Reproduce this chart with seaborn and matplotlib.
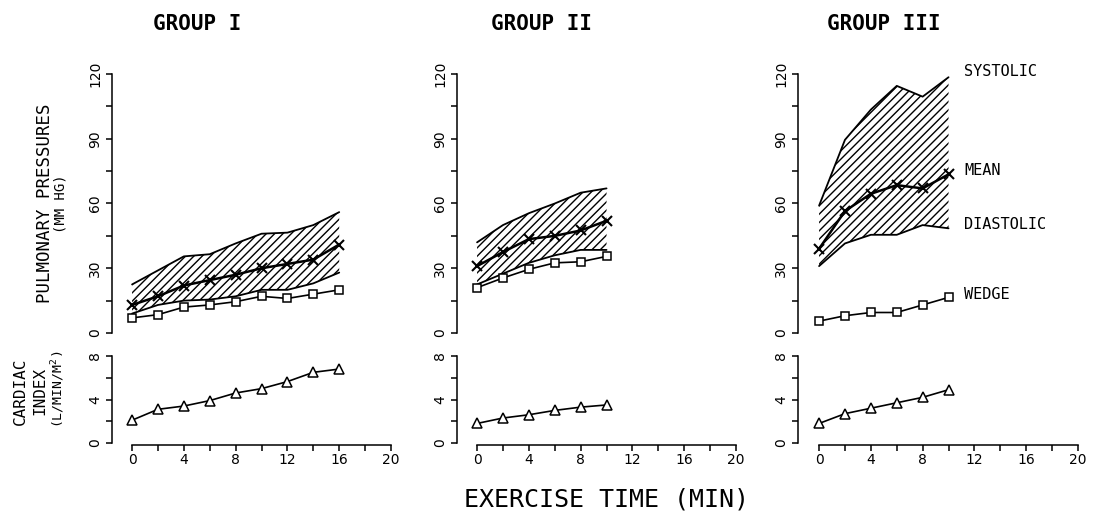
import matplotlib
matplotlib.use("Agg")
import matplotlib.pyplot as plt
import seaborn as sns
import pandas as pd

# ---------------- data ----------------
group_titles = ["GROUP I", "GROUP II", "GROUP III"]

time_g1 = [0, 2, 4, 6, 8, 10, 12, 14, 16]
systolic_g1 = [22.5, 29, 35.5, 36.5, 41.5, 46, 46.5, 50, 56]
mean_g1 = [13, 17, 22, 24.5, 27, 30, 32, 34, 41]
diastolic_g1 = [9, 13, 15, 15.5, 17, 20, 20, 23, 28]
wedge_g1 = [7, 8.5, 12, 13, 14.5, 17, 16, 18, 20]
ci_g1 = [2.1, 3.1, 3.4, 3.9, 4.6, 5.0, 5.65, 6.5, 6.8]

time_g2 = [0, 2, 4, 6, 8, 10]
systolic_g2 = [42, 50, 55.5, 60, 65, 67]
mean_g2 = [31, 37.5, 43.5, 45, 47.5, 52]
diastolic_g2 = [22.5, 27.5, 32.5, 36, 38.5, 38.5]
wedge_g2 = [21, 25.5, 29.5, 32.5, 33, 35.5]
ci_g2 = [1.8, 2.3, 2.6, 3.0, 3.3, 3.5]

time_g3 = [0, 2, 4, 6, 8, 10]
systolic_g3 = [59, 89.5, 103.5, 114.5, 109.5, 118.5]
mean_g3 = [39, 56.5, 64.5, 68.5, 67, 73.5]
diastolic_g3 = [31, 41.5, 45.5, 45.5, 50, 48.5]
wedge_g3 = [5.5, 8, 9.5, 9.5, 13, 16.5]
ci_g3 = [1.8, 2.7, 3.2, 3.7, 4.2, 4.9]

series_labels = ["SYSTOLIC", "MEAN", "DIASTOLIC", "WEDGE"]
pressure_ticks = [0, 15, 30, 45, 60, 75, 90, 105, 120]
pressure_ticklabels = ["0", "", "30", "", "60", "", "90", "", "120"]
ci_ticks = [0, 2, 4, 6, 8]
ci_ticklabels = ["0", "", "4", "", "8"]
time_ticks = [0, 2, 4, 6, 8, 10, 12, 14, 16, 18, 20]
time_ticklabels = ["0", "", "4", "", "8", "", "12", "", "16", "", "20"]

groups = [
    dict(t=time_g1, sys=systolic_g1, mean=mean_g1, dia=diastolic_g1, wedge=wedge_g1, ci=ci_g1),
    dict(t=time_g2, sys=systolic_g2, mean=mean_g2, dia=diastolic_g2, wedge=wedge_g2, ci=ci_g2),
    dict(t=time_g3, sys=systolic_g3, mean=mean_g3, dia=diastolic_g3, wedge=wedge_g3, ci=ci_g3),
]

# ---------------- style ----------------
sns.set_theme(style="ticks")
plt.rcParams["font.family"] = ["DejaVu Sans"]
plt.rcParams["hatch.linewidth"] = 1.0
plt.rcParams["axes.linewidth"] = 1.1
plt.rcParams["text.color"] = "black"
plt.rcParams["xtick.color"] = "black"
plt.rcParams["ytick.color"] = "black"
plt.rcParams["axes.edgecolor"] = "black"
MONO = ["DejaVu Sans Mono"]

W, H = 1093, 511
fig = plt.figure(figsize=(W / 100, H / 100), dpi=100)
fig.patch.set_facecolor("white")


def rect(l, t, r, b):
    return [l / W, 1 - b / H, (r - l) / W, (b - t) / H]


# pixel layout: spine x, x=0 pixel, x=20 pixel
spine_px = [112, 457, 798]
x0_px = [132, 477, 819]
x20_px = [390, 735, 1077]

line_kw = dict(color="black", linewidth=1.3, legend=False)

for i, g in enumerate(groups):
    s = (x20_px[i] - x0_px[i]) / 20.0
    xmin = -(x0_px[i] - spine_px[i]) / s
    df = pd.DataFrame({"time": g["t"], "systolic": g["sys"], "mean": g["mean"],
                       "diastolic": g["dia"], "wedge": g["wedge"], "ci": g["ci"]})

    # ---- pressures ----
    ax = fig.add_axes(rect(spine_px[i], 74, x20_px[i] + 1, 333))
    ax.set_facecolor("none")
    ax.fill_between(df["time"], df["diastolic"], df["systolic"], facecolor="none",
                    edgecolor="black", hatch="////", linewidth=0)
    sns.lineplot(data=df, x="time", y="systolic", ax=ax, **line_kw)
    sns.lineplot(data=df, x="time", y="diastolic", ax=ax, **line_kw)
    sns.lineplot(data=df, x="time", y="mean", ax=ax, marker="x", markersize=7,
                 markeredgewidth=1.5, markeredgecolor="black", color="black",
                 linewidth=1.8, legend=False)
    sns.lineplot(data=df, x="time", y="wedge", ax=ax, marker="s", markersize=6,
                 markerfacecolor="white", markeredgecolor="black",
                 markeredgewidth=1.1, color="black", linewidth=1.2, legend=False)
    ax.set_xlim(xmin, 20)
    ax.set_ylim(0, 120)
    ax.set_yticks(pressure_ticks)
    ax.set_yticklabels(pressure_ticklabels, rotation=90, va="center", fontsize=10)
    ax.set_xticks([])
    for sp in ["top", "right", "bottom"]:
        ax.spines[sp].set_visible(False)
    ax.spines["left"].set_color("black")
    ax.tick_params(axis="y", direction="out", length=4, width=1.1, color="black", pad=3)
    ax.set_xlabel("")
    ax.set_ylabel("")

    ax.text(5, (333 - 24) / (333 - 74), group_titles[i], transform=ax.get_xaxis_transform(),
            ha="center", va="center", fontsize=15, fontweight="bold", family=MONO,
            clip_on=False)

    if i == 2:
        label_y = [121, 75.5, 50.5, 18]
        for lab, yv in zip(series_labels, label_y):
            ax.text(11.2, yv, lab, ha="left", va="center", fontsize=11,
                    family=MONO, clip_on=False)

    # ---- cardiac index ----
    ax2 = fig.add_axes(rect(spine_px[i], 356, x20_px[i] + 1, 445))
    ax2.set_facecolor("none")
    sns.lineplot(data=df, x="time", y="ci", ax=ax2, marker="^", markersize=7,
                 markerfacecolor="white", markeredgecolor="black",
                 markeredgewidth=1.1, color="black", linewidth=1.2, legend=False)
    ax2.set_xlim(xmin, 20)
    ax2.set_ylim(-0.18, 8)
    ax2.set_yticks(ci_ticks)
    ax2.set_yticklabels(ci_ticklabels, rotation=90, va="center", fontsize=10)
    ax2.set_xticks(time_ticks)
    ax2.set_xticklabels(time_ticklabels, fontsize=10)
    for sp in ["top", "right"]:
        ax2.spines[sp].set_visible(False)
    ax2.spines["left"].set_bounds(0, 8)
    ax2.spines["bottom"].set_bounds(0, 20)
    ax2.spines["left"].set_color("black")
    ax2.spines["bottom"].set_color("black")
    ax2.tick_params(axis="both", direction="out", length=4, width=1.1, color="black")
    ax2.tick_params(axis="y", pad=3)
    ax2.tick_params(axis="x", pad=2)
    ax2.set_xlabel("")
    ax2.set_ylabel("")

# ---------------- labels ----------------
fig.text(45 / W, 1 - 203 / H, "PULMONARY PRESSURES", rotation=90, ha="center",
         va="center", fontsize=12.5, family=MONO)
fig.text(61 / W, 1 - 204 / H, "(MM HG)", rotation=90, ha="center", va="center",
         fontsize=10, family=MONO)
fig.text(20 / W, 1 - 391 / H, "CARDIAC", rotation=90, ha="center", va="center",
         fontsize=11.5, family=MONO)
fig.text(40 / W, 1 - 391 / H, "INDEX", rotation=90, ha="center", va="center",
         fontsize=11.5, family=MONO)
fig.text(58 / W, 1 - 389 / H, "(L/MIN/M$^{2}$)", rotation=90, ha="center",
         va="center", fontsize=9.5, family=MONO)
fig.text(607 / W, 1 - 499 / H, "EXERCISE TIME (MIN)", ha="center", va="center",
         fontsize=18, family=MONO)

fig.savefig("out.png", dpi=100, facecolor="white")
